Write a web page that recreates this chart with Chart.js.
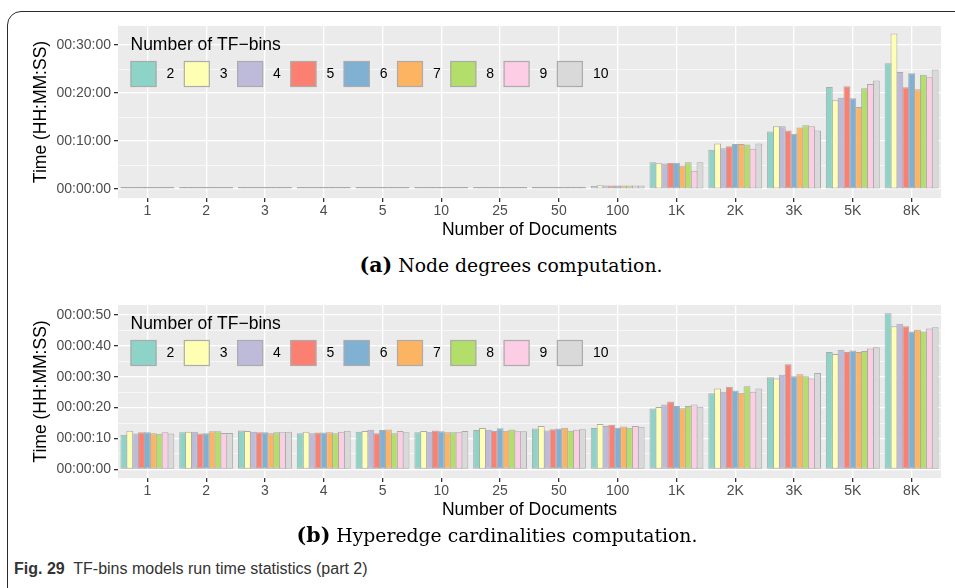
<!DOCTYPE html>
<html>
<head>
<meta charset="utf-8">
<script src="https://cdn.jsdelivr.net/npm/chart.js@4.4.1/dist/chart.umd.min.js"></script>
<style>
  body { margin: 0; background: #fff; }
  #page { position: relative; width: 955px; height: 588px; overflow: hidden; background: #fff; }
  .frame { position: absolute; left: 7px; top: 11px; width: 1000px; height: 640px; border: 1.5px solid #2b2b2b; border-radius: 14px; }
  .wrap { position: absolute; left: 0; width: 955px; }
  #wrapA { top: 0; height: 250px; }
  #wrapB { top: 270px; height: 260px; }
  .cap { position: absolute; font-family: "DejaVu Serif", "Liberation Serif", serif; font-size: 18.8px; color: #000; white-space: nowrap; line-height: 24px; transform: translateX(-50%); }
  .cap b { font-size: 20.5px; }
  #capA { left: 511px; top: 253px; }
  #capB { left: 497px; top: 523px; }
  .fig { position: absolute; left: 14px; top: 559px; font-family: "Liberation Sans Narrow", "Liberation Sans", sans-serif; font-size: 16px; color: #333; white-space: nowrap; line-height: 20px; }
</style>
</head>
<body>
<div id="page">
  <div class="frame"></div>
  <div class="wrap" id="wrapA"><canvas id="chartA"></canvas></div>
  <div class="cap" id="capA"><b>(a)</b> Node degrees computation.</div>
  <div class="wrap" id="wrapB"><canvas id="chartB"></canvas></div>
  <div class="cap" id="capB"><b>(b)</b> Hyperedge cardinalities computation.</div>
  <div class="fig"><b>Fig. 29</b>&nbsp; TF-bins models run time statistics (part 2)</div>
</div>
<script>
// ======== Data ========
const categories = ['1', '2', '3', '4', '5', '10', '25', '50', '100', '1K', '2K', '3K', '5K', '8K'];
const binLabels = ['2', '3', '4', '5', '6', '7', '8', '9', '10'];
const binColors = ['#8DD3C7', '#FFFFB3', '#BEBADA', '#FB8072', '#80B1D3', '#FDB462', '#B3DE69', '#FCCDE5', '#D9D9D9'];

// (a) node degrees, run time in seconds
const deg2  = [1, 1, 2, 2, 3, 5, 12, 28, 42, 336, 492, 720, 1275, 1572];
const deg3  = [1, 1, 2, 2, 3, 5, 12, 30, 46, 321, 570, 786, 1110, 1944];
const deg4  = [1, 1, 2, 2, 3, 5, 11, 28, 44, 318, 510, 786, 1140, 1464];
const deg5  = [1, 1, 2, 2, 3, 5, 12, 27, 44, 324, 534, 732, 1284, 1272];
const deg6  = [1, 1, 2, 2, 3, 5, 12, 28, 43, 330, 564, 690, 1134, 1446];
const deg7  = [1, 1, 2, 2, 3, 5, 11, 27, 43, 294, 564, 768, 1026, 1248];
const deg8  = [1, 1, 2, 2, 3, 5, 12, 28, 44, 336, 558, 798, 1260, 1428];
const deg9  = [1, 1, 2, 2, 3, 5, 12, 27, 43, 228, 504, 786, 1314, 1398];
const deg10 = [1, 1, 2, 2, 3, 5, 12, 28, 44, 336, 570, 732, 1356, 1494];
const degTicks = [0, 300, 600, 900, 1200, 1500, 1800];
const degMajor = 600;
const degRange = [-112, 2038];

// (b) hyperedge cardinalities, run time in seconds
const card2  = [11.2, 12.0, 12.6, 11.7, 12.2, 12.0, 12.7, 13.2, 13.4, 19.7, 24.6, 29.8, 38.0, 50.5];
const card3  = [12.5, 12.2, 12.4, 12.2, 12.4, 12.4, 13.4, 14.0, 14.7, 20.2, 26.2, 29.4, 37.3, 46.3];
const card4  = [11.6, 12.2, 12.2, 11.7, 12.8, 12.2, 12.8, 12.6, 14.0, 21.0, 25.1, 30.6, 38.7, 47.1];
const card5  = [12.0, 11.6, 12.0, 11.9, 11.7, 12.6, 12.4, 13.0, 14.4, 22.0, 26.7, 34.0, 38.0, 46.3];
const card6  = [12.0, 11.7, 12.0, 11.9, 12.7, 12.3, 13.3, 13.2, 13.5, 20.5, 25.5, 30.1, 38.5, 44.6];
const card7  = [11.7, 12.3, 11.7, 12.0, 12.9, 12.0, 12.5, 13.5, 13.9, 19.8, 24.8, 30.8, 38.0, 45.2];
const card8  = [11.5, 12.3, 12.0, 11.7, 11.7, 12.0, 12.9, 12.5, 13.5, 20.5, 26.9, 30.1, 38.3, 44.6];
const card9  = [12.0, 11.8, 12.0, 12.2, 12.4, 12.0, 12.3, 12.8, 14.0, 21.0, 25.1, 29.4, 39.1, 45.6];
const card10 = [11.6, 11.8, 12.2, 12.5, 12.0, 12.4, 12.3, 13.0, 13.8, 20.3, 26.2, 31.2, 39.5, 46.0];
const cardTicks = [0, 5, 10, 15, 20, 25, 30, 35, 40, 45, 50];
const cardMajor = 10;
const cardRange = [-2.8, 53.2];

// ======== Helpers ========
const FONT = '"Liberation Sans", Arial, sans-serif';

const hms = (s) => {
    const h = Math.floor(s / 3600);
    const m = Math.floor((s % 3600) / 60);
    const sec = Math.round(s % 60);
    return [h, m, sec].map(n => String(n).padStart(2, '0')).join(':');
};

// grey ggplot panel behind the grid
const panelBackground = {
    id: 'panelBackground',
    beforeDraw(chart) {
        const { ctx, chartArea: a } = chart;
        ctx.save();
        ctx.fillStyle = '#EBEBEB';
        ctx.fillRect(a.left, a.top, a.right - a.left, a.bottom - a.top);
        ctx.restore();
    }
};

// legend drawn inside the panel, top-left
const panelLegend = {
    id: 'panelLegend',
    afterDatasetsDraw(chart) {
        const { ctx, chartArea: a } = chart;
        const x0 = a.left + 12.5;
        const y0 = a.top;
        ctx.save();
        ctx.textBaseline = 'middle';
        ctx.textAlign = 'left';
        ctx.fillStyle = '#000';
        ctx.font = `17.5px ${FONT}`;
        ctx.fillText('Number of TF\u2212bins', x0, y0 + 19);
        ctx.font = `14px ${FONT}`;
        chart.data.datasets.forEach((ds, i) => {
            const x = x0 + i * 53.3;
            ctx.fillStyle = ds.backgroundColor;
            ctx.fillRect(x, y0 + 35, 26, 26);
            ctx.strokeStyle = '#ABABAB';
            ctx.lineWidth = 1.2;
            ctx.strokeRect(x + 0.5, y0 + 35.5, 25, 25);
            ctx.fillStyle = '#000';
            ctx.fillText(ds.label, x + 36, y0 + 48.5);
        });
        ctx.restore();
    }
};

function makeChart(canvasId, series, tickValues, majorStep, range, padTop) {
    const isMajor = (c) => c.tick && Math.abs(c.tick.value % majorStep) < 1e-9;
    return new Chart(document.getElementById(canvasId), {
        type: 'bar',
        data: {
            labels: categories,
            datasets: series.map((data, i) => ({
                label: binLabels[i],
                data: data,
                backgroundColor: binColors[i],
                borderColor: '#ABABAB',
                borderWidth: 1,
                borderSkipped: false,
                categoryPercentage: 0.9,
                barPercentage: 1.17,
                minBarLength: 2,
            })),
        },
        options: {
            responsive: true,
            maintainAspectRatio: false,
            animation: false,
            devicePixelRatio: 1,
            layout: { padding: { top: padTop, right: 14, bottom: 9.5, left: 31 } },
            plugins: {
                legend: { display: false },
                tooltip: { enabled: false },
            },
            scales: {
                x: {
                    offset: true,
                    border: { display: false },
                    grid: { offset: false, color: '#FFFFFF', lineWidth: 1.3, tickColor: '#333333', tickLength: 4 },
                    ticks: { color: '#4D4D4D', font: { family: FONT, size: 14 }, padding: 1, autoSkip: false, maxRotation: 0 },
                    title: { display: true, text: 'Number of Documents', color: '#000', font: { family: FONT, size: 17.5 }, padding: 0 },
                    afterFit: (axis) => { axis.height = 42.5; },
                },
                y: {
                    min: range[0],
                    max: range[1],
                    afterBuildTicks: (axis) => { axis.ticks = tickValues.map(v => ({ value: v })); },
                    border: { display: false },
                    grid: {
                        color: '#FFFFFF',
                        lineWidth: (c) => isMajor(c) ? 1.3 : 0.6,
                        tickColor: (c) => isMajor(c) ? '#333333' : 'rgba(0,0,0,0)',
                        tickLength: 4,
                    },
                    ticks: {
                        color: '#4D4D4D',
                        font: { family: FONT, size: 14 },
                        padding: 3,
                        autoSkip: false,
                        callback: (v) => Math.abs(v % majorStep) < 1e-9 ? hms(v) : '',
                    },
                    title: { display: true, text: 'Time (HH:MM:SS)', color: '#000', font: { family: FONT, size: 17.5 }, padding: 0 },
                    afterFit: (axis) => { axis.width = 87; },
                },
            },
        },
        plugins: [panelBackground, panelLegend],
    });
}

makeChart('chartA', [deg2, deg3, deg4, deg5, deg6, deg7, deg8, deg9, deg10], degTicks, degMajor, degRange, 26);
makeChart('chartB', [card2, card3, card4, card5, card6, card7, card8, card9, card10], cardTicks, cardMajor, cardRange, 35);
</script>
</body>
</html>
